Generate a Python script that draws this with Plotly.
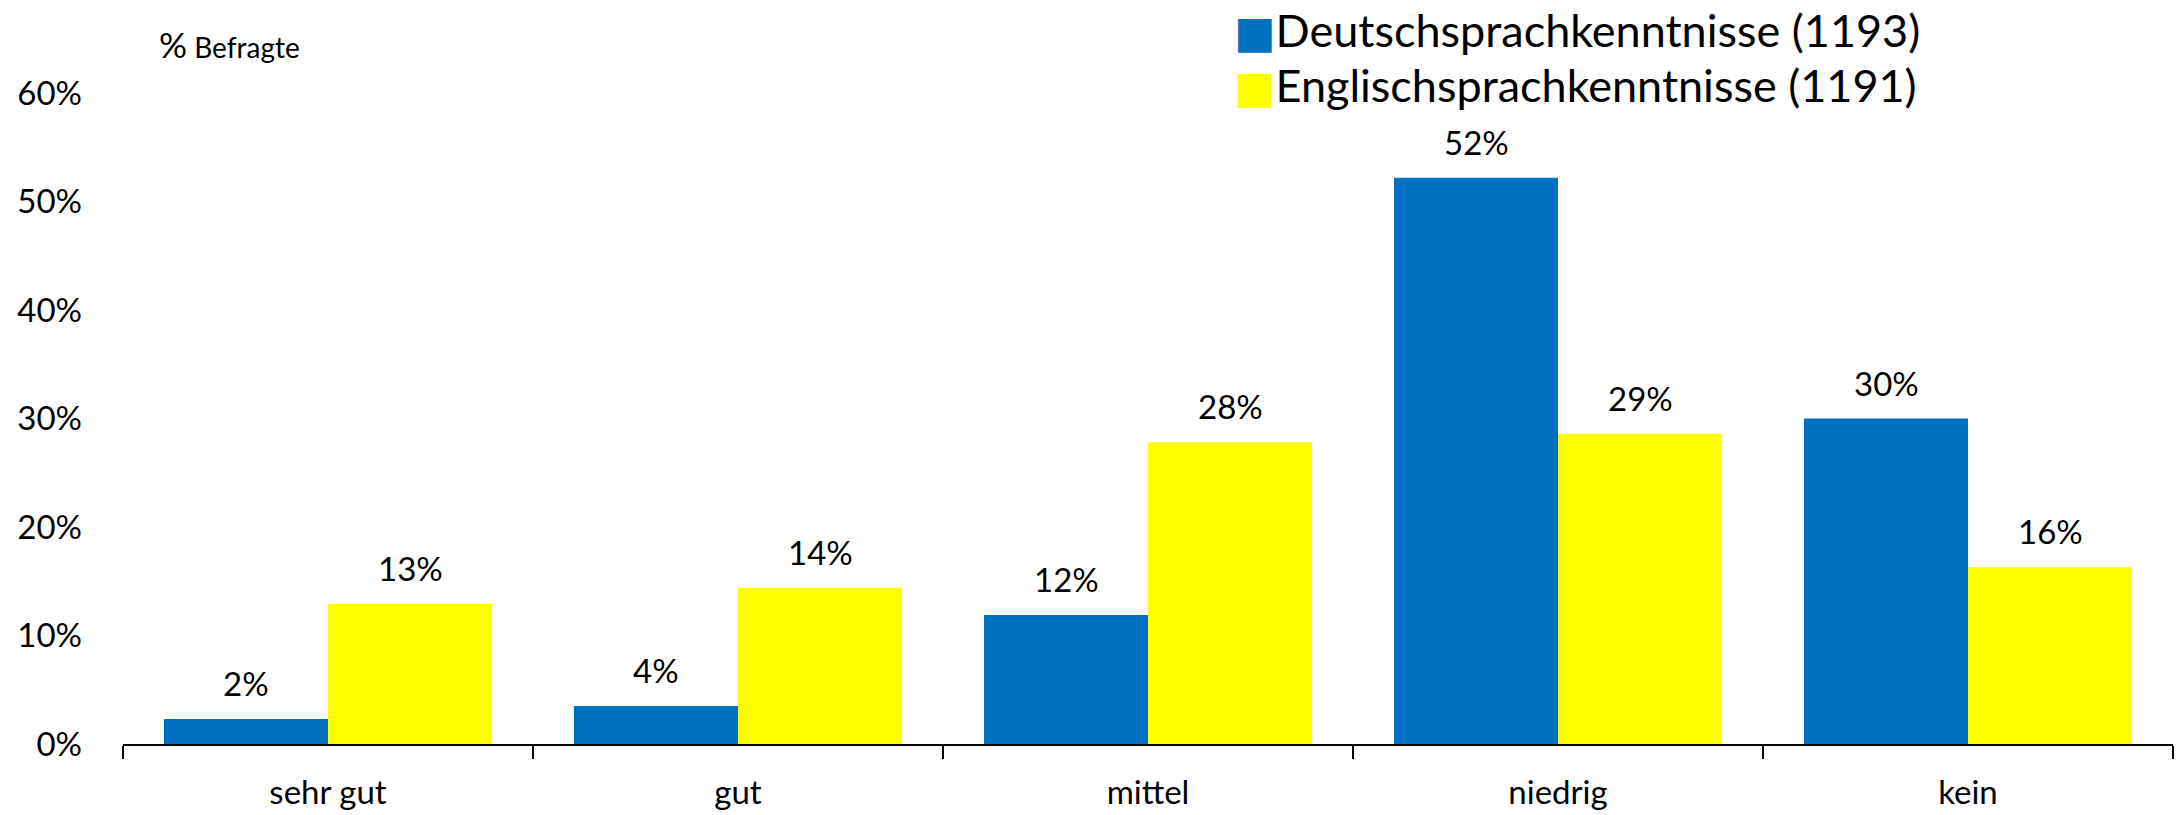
import plotly.graph_objects as go

# data
categories = ["sehr gut", "gut", "mittel", "niedrig", "kein"]
deutsch = [2.3, 3.5, 11.9, 52.2, 30.0]
englisch = [12.9, 14.4, 27.8, 28.6, 16.3]
series_names = ["Deutschsprachkenntnisse (1193)", "Englischsprachkenntnisse (1191)"]
series_colors = ["#0070C0", "#FFFF00"]
y_ticks = [0, 10, 20, 30, 40, 50, 60]
y_ticktext = [f"{t}%" for t in y_ticks]

FONT = "Lato"

fig = go.Figure()
for vals, name, color in zip([deutsch, englisch], series_names, series_colors):
    fig.add_bar(x=categories, y=vals, name=name, marker_color=color,
                marker_line_width=0, showlegend=False)

# value labels above the bars (bar i of group sits at category index -/+ 0.2)
for k, vals in enumerate([deutsch, englisch]):
    off = -0.2 if k == 0 else 0.2
    for i, v in enumerate(vals):
        fig.add_annotation(x=i + off, y=v, text=f"{v:.0f}%", showarrow=False,
                           yanchor="bottom", yshift=14,
                           font=dict(family=FONT, size=33, color="black"))

# legend drawn as text rows with a coloured square
for row, (name, color) in enumerate(zip(series_names, series_colors)):
    fig.add_annotation(xref="paper", yref="paper", x=0.541, y=[1.097, 1.012][row],
                       xanchor="left", yanchor="middle", showarrow=False,
                       text=f"<span style='color:{color};font-family:DejaVu Sans;font-size:44px'>■</span>{name}",
                       font=dict(family=FONT, size=45, color="black"))

# axis unit label
fig.add_annotation(xref="paper", yref="paper", x=0.0166, y=1.075, xanchor="left",
                   yanchor="middle", showarrow=False,
                   text="<span style='font-size:35px'>%</span> Befragte",
                   font=dict(family=FONT, size=28, color="black"))

fig.update_layout(
    width=2184,
    height=815,
    margin=dict(l=123, r=11, t=93, b=71),
    barmode="group",
    bargap=0.2,
    bargroupgap=0,
    plot_bgcolor="white",
    paper_bgcolor="white",
    font=dict(family=FONT, size=33, color="black"),
)
fig.update_xaxes(
    showline=True, linecolor="black", linewidth=2,
    ticks="outside", tickson="boundaries", ticklen=13, tickwidth=2, tickcolor="black",
    showgrid=False, ticklabelstandoff=18, automargin=False,
    tickfont=dict(family=FONT, size=33, color="black"),
)
fig.update_yaxes(
    range=[0, 60], tickvals=y_ticks, ticktext=y_ticktext,
    showgrid=False, zeroline=False, showline=False, ticks="",
    ticklabelstandoff=40, automargin=False,
    tickfont=dict(family=FONT, size=33, color="black"),
)

# drop the default page margin so the figure fills the window
fig.write_html("out.html", config={"displayModeBar": False},
               post_script="document.body.style.margin='0';")
